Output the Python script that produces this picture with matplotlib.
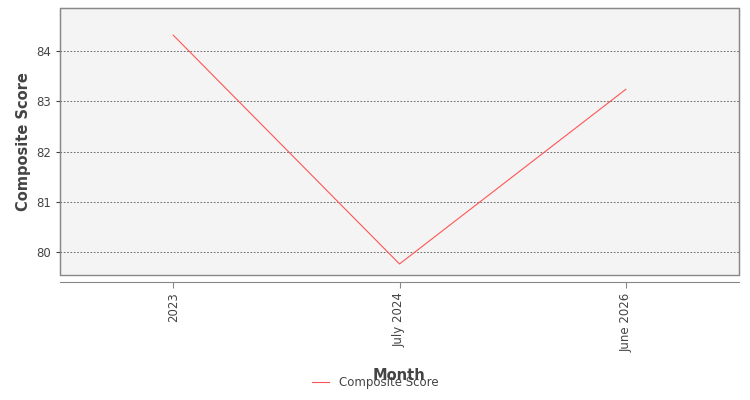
import matplotlib
matplotlib.use("Agg")
import matplotlib.pyplot as plt

months = ["2023", "July 2024", "June 2026"]
scores = [84.32, 79.76, 83.24]
series_name = "Composite Score"

fig = plt.figure(figsize=(7.5, 4), dpi=100)
ax = fig.add_axes([60/750, 1-275/400, 679/750, 267/400])
ax.set_facecolor("#f4f4f4")
ax.patch.set_edgecolor("#888888")
ax.patch.set_linewidth(1.0)
x = list(range(len(months)))
ax.plot(x, scores, color="#ff5555", lw=0.8, label=series_name)
ax.set_xlim(-0.5, 2.5)
ax.set_ylim(79.54, 84.86)
ax.set_yticks([80, 81, 82, 83, 84])
ax.yaxis.grid(True, linestyle=(0, (2, 2)), color="#555555", lw=0.6)
ax.set_xticks(x)
ax.tick_params(axis="y", labelsize=8.5, colors="#444444", length=3)
ax.tick_params(axis="x", length=4, colors="#888888", labelcolor="#444444",
               labelsize=8.5, labelrotation=90)
for s in ax.spines.values():
    s.set_color("#888888"); s.set_linewidth(0.8)
ax.spines["bottom"].set_position(("outward", 5))
ax.set_xticklabels(months)
ax.set_xlabel("Month", fontsize=10.5, fontweight="bold", color="#444444", labelpad=12)
ax.set_ylabel("Composite Score", fontsize=10.5, fontweight="bold", color="#444444")
fig.legend(loc="lower center", bbox_to_anchor=(0.5, 0.0), frameon=False, fontsize=8.5,
           handlelength=1.5, labelcolor="#444444")
fig.savefig("out.png")
